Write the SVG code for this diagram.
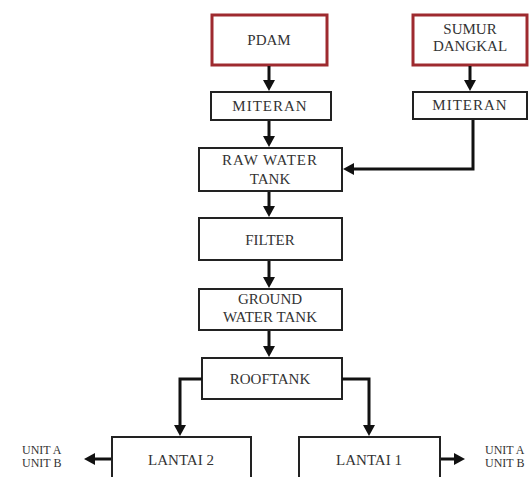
<svg xmlns="http://www.w3.org/2000/svg" width="530" height="477" viewBox="0 0 530 477">
<defs>
<marker id="ah" viewBox="0 0 11 12" markerWidth="11" markerHeight="12" refX="3" refY="6" orient="auto" markerUnits="userSpaceOnUse">
<path d="M0,0 L11,6 L0,12 z" fill="#111"/>
</marker>
<style>
.box{fill:#fff;stroke:#222;stroke-width:2}
.rbox{fill:#fff;stroke:#9e2a2f;stroke-width:3}
.t{font-family:"Liberation Serif",serif;font-size:15px;fill:#333;text-anchor:middle}
.s{font-family:"Liberation Serif",serif;font-size:12px;fill:#333}
.c{fill:none;stroke:#111;stroke-width:3;marker-end:url(#ah)}
</style>
</defs>
<rect width="530" height="477" fill="#fff"/>
<g id="pdam"><rect class="rbox" x="212" y="15" width="115" height="50"/><text class="t" x="269" y="45">PDAM</text></g>
<g id="sumur"><rect class="rbox" x="413" y="15" width="114" height="50"/><text class="t" x="470" y="34">SUMUR</text><text class="t" x="470" y="51">DANGKAL</text></g>
<g id="miteran1"><rect class="box" x="211" y="92" width="120" height="28"/><text class="t" x="270" y="111" letter-spacing="1">MITERAN</text></g>
<g id="miteran2"><rect class="box" x="413" y="92" width="114" height="27" stroke="#bbb" stroke-width="1"/><line x1="413" y1="92" x2="527" y2="92" stroke="#222" stroke-width="2"/><line x1="413" y1="119" x2="527" y2="119" stroke="#222" stroke-width="2"/><text class="t" x="470" y="110" letter-spacing="1">MITERAN</text></g>
<g id="raw"><rect class="box" x="199" y="148" width="143" height="43"/><text class="t" x="270" y="165" letter-spacing="1">RAW WATER</text><text class="t" x="270" y="184">TANK</text></g>
<g id="filter"><rect class="box" x="199" y="218" width="143" height="42"/><text class="t" x="270" y="245">FILTER</text></g>
<g id="gwt"><rect class="box" x="199" y="289" width="143" height="41"/><text class="t" x="270" y="304">GROUND</text><text class="t" x="270" y="322">WATER TANK</text></g>
<g id="rooftank"><rect class="box" x="202" y="358" width="140" height="41"/><text class="t" x="270" y="384">ROOFTANK</text></g>
<g id="lantai2"><rect class="box" x="112" y="437" width="139" height="60"/><text class="t" x="181" y="465">LANTAI 2</text></g>
<g id="lantai1"><rect class="box" x="299" y="437" width="141" height="60"/><text class="t" x="369" y="465">LANTAI 1</text></g>
<g id="units-left"><text class="s" x="22" y="454">UNIT A</text><text class="s" x="22" y="467">UNIT B</text></g>
<g id="units-right"><text class="s" x="485" y="454">UNIT A</text><text class="s" x="485" y="467">UNIT B</text></g>
<g id="connectors">
<path class="c" d="M269,66 V83"/>
<path class="c" d="M470,66 V83"/>
<path class="c" d="M269,121 V139"/>
<path class="c" d="M473,120 V169 H351"/>
<path class="c" d="M269,192 V209"/>
<path class="c" d="M269,261 V280"/>
<path class="c" d="M269,331 V349"/>
<path class="c" d="M202,379 H180 V428"/>
<path class="c" d="M342,379 H369 V428"/>
<path class="c" d="M111,459 H92"/>
<path class="c" d="M441,459 H457"/>
</g>
</svg>
